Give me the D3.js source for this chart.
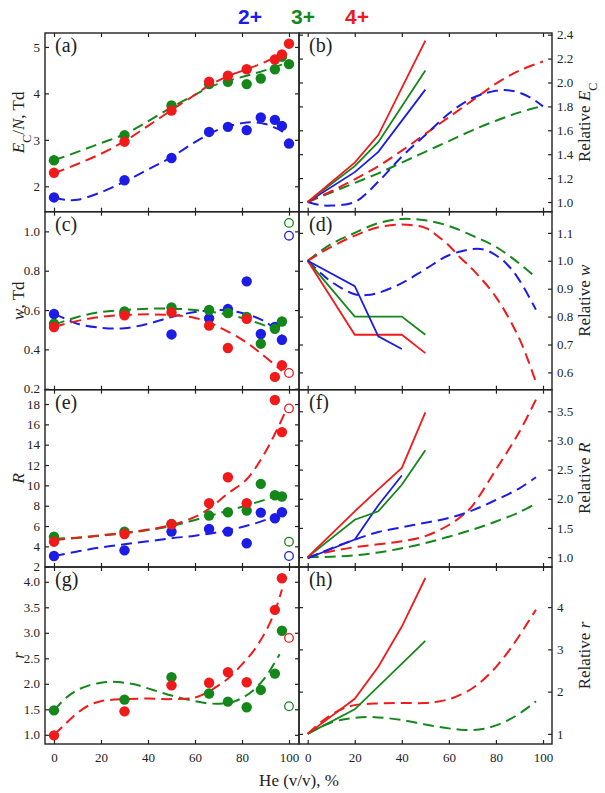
<!DOCTYPE html>
<html><head><meta charset="utf-8">
<script src="https://cdn.jsdelivr.net/npm/d3@7"></script>
<style>
html,body{margin:0;padding:0;background:#fff;}
</style></head>
<body><svg id="chart" width="605" height="793"></svg>
<script>
// ---------------- DATA ----------------
const heTicks = [0, 20, 40, 60, 80, 100];
const seriesNames = ["2+", "3+", "4+"];
const colors = {blue: "#1c1ce6", green: "#14871a", red: "#f01a1a"};

// measured points (He %, filled); last x = 100 is separate
const ptX = [0, 30, 50, 66, 74, 82, 88, 94, 97];
// (a) E_C/N, Td  (x=100 filled in panel a)
const aBlue  = [1.76, 2.13, 2.61, 3.17, 3.28, 3.21, 3.48, 3.43, 3.30];
const aGreen = [2.56, 3.10, 3.74, 4.20, 4.25, 4.20, 4.32, 4.52, 4.79];
const aRed   = [2.29, 2.96, 3.63, 4.25, 4.38, 4.52, null, 4.73, 4.84];
const aAt100 = {blue: 2.92, green: 4.63, red: 5.07};
// (c) w, Td
const cBlue  = [0.58, 0.585, 0.476, 0.558, 0.605, 0.746, 0.478, 0.514, 0.449];
const cGreen = [0.531, 0.593, 0.613, 0.60, 0.585, 0.565, 0.429, 0.505, 0.542];
const cRed   = [0.514, 0.573, 0.588, 0.521, 0.407, 0.555, null, 0.26, 0.319];
const cAt100 = {blue: 0.978, green: 1.043, red: 0.28};
// (e) R
const eBlue  = [3.05, 3.61, 5.45, 5.71, 5.45, 4.31, 7.32, 6.77, 7.36];
const eGreen = [4.96, 5.45, 6.2, 7.03, 7.36, 7.52, 10.15, 9.03, 8.9];
const eRed   = [4.46, 5.22, 6.18, 8.25, 10.8, 8.25, null, 18.4, 15.24];
const eAt100 = {blue: 3.05, green: 4.46, red: 17.57};
// (g) r
const gGreen = [1.48, 1.69, 2.13, 1.81, 1.65, 1.54, 1.88, 2.20, 3.04];
const gRed   = [0.99, 1.46, 1.97, 2.02, 2.23, 2.03, null, 3.45, 4.07];
const gAt100 = {green: 1.56, red: 2.90};

// fitted (dashed) curves
const aFitBlueX  = [0, 5, 10, 20, 30, 40, 50, 60, 70, 80, 85, 90, 95, 99];
const aFitBlueY  = [1.76, 1.71, 1.71, 1.87, 2.10, 2.36, 2.63, 2.95, 3.22, 3.36, 3.38, 3.34, 3.24, 3.12];
const aFitGreenX = [0, 10, 20, 30, 40, 50, 60, 66, 74, 82, 90, 97];
const aFitGreenY = [2.56, 2.74, 2.93, 3.12, 3.40, 3.70, 3.97, 4.13, 4.27, 4.38, 4.50, 4.62];
const aFitRedX   = [0, 10, 20, 30, 40, 50, 60, 66, 74, 82, 90, 97];
const aFitRedY   = [2.28, 2.48, 2.70, 2.97, 3.30, 3.64, 3.97, 4.17, 4.37, 4.52, 4.68, 4.86];

const cFitBlueX  = [0, 5, 10, 20, 30, 40, 50, 60, 70, 80, 90, 97];
const cFitBlueY  = [0.58, 0.555, 0.53, 0.51, 0.508, 0.53, 0.565, 0.59, 0.60, 0.585, 0.54, 0.47];
const cFitGreenX = [0, 10, 20, 30, 40, 50, 60, 70, 80, 90, 95];
const cFitGreenY = [0.525, 0.565, 0.59, 0.60, 0.607, 0.607, 0.60, 0.585, 0.56, 0.52, 0.495];
const cFitRedX   = [0, 10, 20, 30, 40, 50, 60, 66, 70, 80, 88, 97];
const cFitRedY   = [0.515, 0.545, 0.565, 0.575, 0.578, 0.575, 0.56, 0.537, 0.515, 0.45, 0.38, 0.29];

const eFitBlueX  = [0, 10, 20, 30, 40, 50, 60, 70, 80, 90, 97];
const eFitBlueY  = [3.05, 3.5, 3.9, 4.2, 4.5, 4.8, 5.05, 5.4, 5.9, 6.6, 7.3];
const eFitGreenX = [0, 10, 20, 30, 40, 50, 60, 70, 80, 90, 96];
const eFitGreenY = [4.75, 4.85, 5.05, 5.3, 5.6, 6.0, 6.6, 7.25, 7.9, 8.6, 9.1];
const eFitRedX   = [0, 10, 20, 30, 40, 50, 60, 66, 74, 82, 90, 98];
const eFitRedY   = [4.6, 4.85, 5.1, 5.35, 5.65, 6.1, 6.9, 7.7, 9.2, 10.6, 13.3, 17.0];

const gFitGreenX = [0, 5, 10, 15, 20, 25, 30, 35, 40, 45, 50, 55, 60, 65, 70, 75, 80, 85, 90, 96];
const gFitGreenY = [1.48, 1.72, 1.88, 1.97, 2.02, 2.04, 2.02, 1.98, 1.91, 1.84, 1.77, 1.71, 1.66, 1.62, 1.61, 1.63, 1.72, 1.88, 2.13, 2.58];
const gFitRedX   = [0, 5, 10, 15, 20, 30, 40, 50, 60, 66, 70, 74, 80, 85, 90, 94, 97];
const gFitRedY   = [1.0, 1.22, 1.43, 1.58, 1.66, 1.70, 1.71, 1.70, 1.73, 1.85, 1.97, 2.10, 2.38, 2.65, 3.02, 3.42, 3.85];

// relative panels: solid (measured) lines
const bSolidX = [0, 20, 30, 50];
const bSolidBlue  = [1.0, 1.25, 1.42, 1.94];
const bSolidGreen = [1.0, 1.30, 1.50, 2.10];
const bSolidRed   = [1.0, 1.33, 1.56, 2.35];
const bFitX = [0, 10, 20, 30, 40, 50, 60, 70, 80, 90, 100];
const bFitGreen = [1.0, 1.08, 1.16, 1.24, 1.33, 1.42, 1.51, 1.60, 1.68, 1.75, 1.805];
const bFitRed   = [1.0, 1.09, 1.19, 1.30, 1.43, 1.57, 1.71, 1.85, 1.99, 2.10, 2.175];
const bFitBlueX = [0, 5, 10, 20, 30, 40, 50, 60, 70, 80, 85, 90, 95, 100];
const bFitBlue  = [1.0, 0.975, 0.97, 1.0, 1.17, 1.38, 1.56, 1.74, 1.87, 1.93, 1.935, 1.915, 1.87, 1.80];

const dSolidBlueX = [0, 20, 30, 40];
const dSolidBlue  = [1.0, 0.909, 0.729, 0.684];
const dSolidX = [0, 20, 40, 50];
const dSolidGreen = [1.0, 0.80, 0.80, 0.735];
const dSolidRed   = [1.0, 0.735, 0.735, 0.669];
const dFitGreenX = [0, 10, 20, 30, 40, 50, 60, 70, 80, 90, 97];
const dFitGreen  = [1.0, 1.06, 1.10, 1.135, 1.15, 1.145, 1.125, 1.09, 1.05, 0.99, 0.94];
const dFitRedX   = [0, 10, 20, 30, 40, 50, 55, 60, 65, 70, 80, 90, 97];
const dFitRed    = [1.0, 1.05, 1.09, 1.12, 1.13, 1.118, 1.09, 1.055, 1.01, 0.97, 0.87, 0.72, 0.565];
const dFitBlueX  = [0, 5, 10, 20, 25, 30, 40, 50, 60, 70, 75, 80, 85, 90, 97];
const dFitBlue   = [1.0, 0.96, 0.925, 0.88, 0.877, 0.885, 0.92, 0.97, 1.02, 1.042, 1.04, 1.02, 0.985, 0.93, 0.825];

const fSolidX = [0, 20, 30, 40, 50];
const fSolidRed   = [1.0, 1.785, 2.16, 2.53, 3.48];
const fSolidGreen = [1.0, 1.64, 1.785, 2.24, 2.83];
const fSolidBlueX = [0, 20, 30, 40];
const fSolidBlue  = [0.98, 1.30, 1.89, 2.40];
const fFitX = [0, 10, 20, 30, 40, 50, 60, 70, 80, 90, 97];
const fFitBlue  = [0.98, 1.15, 1.30, 1.43, 1.51, 1.59, 1.67, 1.80, 1.98, 2.18, 2.37];
const fFitGreen = [1.0, 1.005, 1.03, 1.08, 1.15, 1.24, 1.35, 1.47, 1.61, 1.77, 1.92];
const fFitRedX  = [0, 10, 20, 30, 40, 50, 60, 66, 70, 80, 90, 97];
const fFitRed   = [1.0, 1.1, 1.17, 1.22, 1.27, 1.36, 1.55, 1.72, 1.88, 2.50, 3.15, 3.70];

const hSolidRedX = [0, 20, 30, 40, 50];
const hSolidRed  = [1.0, 1.83, 2.59, 3.54, 4.69];
const hSolidGreenX = [0, 20, 50];
const hSolidGreen  = [1.0, 1.58, 3.20];
const hFitRedX = [0, 5, 10, 15, 20, 30, 40, 50, 55, 60, 65, 70, 75, 80, 85, 90, 97];
const hFitRed  = [1.0, 1.25, 1.45, 1.6, 1.68, 1.72, 1.73, 1.73, 1.76, 1.82, 1.93, 2.08, 2.3, 2.58, 2.93, 3.33, 3.94];
const hFitGreenX = [0, 5, 10, 15, 20, 25, 30, 40, 50, 60, 65, 70, 75, 80, 85, 90, 97];
const hFitGreen  = [1.0, 1.15, 1.27, 1.34, 1.38, 1.40, 1.39, 1.33, 1.22, 1.13, 1.10, 1.09, 1.12, 1.2, 1.32, 1.48, 1.77];

// y tick values
const aTicks = [2, 3, 4, 5];
const bTicks = [1.0, 1.2, 1.4, 1.6, 1.8, 2.0, 2.2, 2.4];
const cTicks = [0.2, 0.4, 0.6, 0.8, 1.0];
const dTicks = [0.6, 0.7, 0.8, 0.9, 1.0, 1.1];
const eTicks = [2, 4, 6, 8, 10, 12, 14, 16, 18];
const fTicks = [1.0, 1.5, 2.0, 2.5, 3.0, 3.5];
const gTicks = [1.0, 1.5, 2.0, 2.5, 3.0, 3.5, 4.0];
const hTicks = [1, 2, 3, 4];

// ---------------- DRAWING ----------------
const SERIF = '"Liberation Serif", "DejaVu Serif", "Times New Roman", Times, serif';
const svg = d3.select("#chart");
const rows = [33, 211.7, 389.7, 567, 744];
const frameL = {x0: 45, x1: 299, r0: 54, r1: 289};
const frameR = {x0: 299, x1: 552, r0: 307.7, r1: 543};

const zip = (xs, ys) => xs.map((x, i) => ({x, y: ys[i]})).filter(d => d.y != null);

function panel(cfg) {
  const fr = cfg.side === "L" ? frameL : frameR;
  const top = rows[cfg.row], bot = rows[cfg.row + 1];
  const x = d3.scaleLinear().domain([0, 100]).range([fr.r0, fr.r1]);
  const y = d3.scaleLinear().domain(cfg.domain).range([bot, top]);
  const g = svg.append("g");
  const cid = "clip" + cfg.label;
  svg.append("clipPath").attr("id", cid).append("rect")
    .attr("x", fr.x0).attr("y", top).attr("width", fr.x1 - fr.x0).attr("height", bot - top);

  const plot = g.append("g").attr("clip-path", `url(#${cid})`);
  const line = d3.line().x(d => x(d.x)).y(d => y(d.y)).curve(d3.curveCatmullRom.alpha(0.5));
  const lineStraight = d3.line().x(d => x(d.x)).y(d => y(d.y));

  (cfg.dashed || []).forEach(s => {
    plot.append("path").datum(zip(s.x, s.y)).attr("d", line)
      .attr("fill", "none").attr("stroke", colors[s.c]).attr("stroke-width", 2)
      .attr("stroke-dasharray", "11,6");
  });
  (cfg.solid || []).forEach(s => {
    plot.append("path").datum(zip(s.x, s.y)).attr("d", lineStraight)
      .attr("fill", "none").attr("stroke", colors[s.c]).attr("stroke-width", 1.8);
  });
  (cfg.points || []).forEach(s => {
    plot.selectAll(null).data(zip(ptX, s.y)).join("circle")
      .attr("cx", d => x(d.x)).attr("cy", d => y(d.y)).attr("r", 5.2)
      .attr("fill", colors[s.c]);
    if (s.end != null) {
      const c = plot.append("circle").attr("cx", x(100)).attr("cy", y(s.end));
      if (s.open) c.attr("r", 4.3).attr("fill", "none").attr("stroke", colors[s.c]).attr("stroke-width", 1.3);
      else c.attr("r", 5.2).attr("fill", colors[s.c]);
    }
  });

  // axes with inward ticks
  const fmt = cfg.fmt;
  const tickStyle = sel => {
    sel.attr("font-family", SERIF).attr("font-size", 13);
    sel.select(".domain").remove();
    sel.selectAll(".tick line").attr("stroke", "#222").attr("stroke-width", 1.2);
    sel.selectAll(".tick text").attr("font-family", SERIF).attr("font-size", 13).attr("fill", "#222");
  };
  const yl = d3.axisLeft(y).tickValues(cfg.ticks).tickSize(-4).tickPadding(5)
    .tickFormat(cfg.side === "L" ? fmt : () => "");
  g.append("g").attr("transform", `translate(${fr.x0},0)`).call(yl).call(tickStyle);
  const yr = d3.axisRight(y).tickValues(cfg.ticks).tickSize(-4).tickPadding(5)
    .tickFormat(cfg.side === "R" ? fmt : () => "");
  g.append("g").attr("transform", `translate(${fr.x1},0)`).call(yr).call(tickStyle);
  g.append("g").attr("transform", `translate(0,${top})`)
    .call(d3.axisTop(x).tickValues(heTicks).tickSize(-4).tickFormat(() => "")).call(tickStyle);
  const xb = d3.axisBottom(x).tickValues(heTicks).tickSize(-4).tickPadding(9)
    .tickFormat(cfg.row === 3 ? d3.format("d") : () => "");
  g.append("g").attr("transform", `translate(0,${bot})`).call(xb).call(tickStyle);

  g.append("rect").attr("x", fr.x0).attr("y", top).attr("width", fr.x1 - fr.x0).attr("height", bot - top)
    .attr("fill", "none").attr("stroke", "#222").attr("stroke-width", 1.4);

  g.append("text").attr("x", fr.x0 + 10).attr("y", top + 19)
    .attr("font-family", SERIF).attr("font-size", 20).attr("fill", "#222")
    .text("(" + cfg.label + ")");

  // axis title
  const tx = cfg.side === "L" ? 24 : 590;
  const t = g.append("text").attr("text-anchor", "middle")
    .attr("transform", `translate(${tx},${(top + bot) / 2}) rotate(-90)`)
    .attr("font-family", SERIF).attr("font-size", 17).attr("fill", "#222");
  cfg.title.forEach(p => {
    const ts = t.append("tspan").text(p.t);
    if (p.i) ts.attr("font-style", "italic");
    if (p.sub) ts.attr("baseline-shift", "sub").attr("font-size", 12);
  });
}

const f1 = d3.format(".1f"), fd = d3.format("d");

panel({label: "a", side: "L", row: 0, domain: [1.453, 5.30], ticks: aTicks, fmt: fd,
  title: [{t: "E", i: 1}, {t: "C", sub: 1}, {t: "/"}, {t: "N", i: 1}, {t: ", Td"}],
  dashed: [{c: "blue", x: aFitBlueX, y: aFitBlueY}, {c: "green", x: aFitGreenX, y: aFitGreenY}, {c: "red", x: aFitRedX, y: aFitRedY}],
  points: [{c: "blue", y: aBlue, end: aAt100.blue}, {c: "green", y: aGreen, end: aAt100.green}, {c: "red", y: aRed, end: aAt100.red}]});

panel({label: "b", side: "R", row: 0, domain: [0.919, 2.414], ticks: bTicks, fmt: f1,
  title: [{t: "Relative "}, {t: "E", i: 1}, {t: "C", sub: 1}],
  dashed: [{c: "green", x: bFitX, y: bFitGreen}, {c: "red", x: bFitX, y: bFitRed}, {c: "blue", x: bFitBlueX, y: bFitBlue}],
  solid: [{c: "blue", x: bSolidX, y: bSolidBlue}, {c: "green", x: bSolidX, y: bSolidGreen}, {c: "red", x: bSolidX, y: bSolidRed}]});

panel({label: "c", side: "L", row: 1, domain: [0.195, 1.10], ticks: cTicks, fmt: f1,
  title: [{t: "w", i: 1}, {t: ", Td"}],
  dashed: [{c: "blue", x: cFitBlueX, y: cFitBlueY}, {c: "green", x: cFitGreenX, y: cFitGreenY}, {c: "red", x: cFitRedX, y: cFitRedY}],
  points: [{c: "blue", y: cBlue, end: cAt100.blue, open: 1}, {c: "green", y: cGreen, end: cAt100.green, open: 1}, {c: "red", y: cRed, end: cAt100.red, open: 1}]});

panel({label: "d", side: "R", row: 1, domain: [0.538, 1.176], ticks: dTicks, fmt: f1,
  title: [{t: "Relative "}, {t: "w", i: 1}],
  dashed: [{c: "green", x: dFitGreenX, y: dFitGreen}, {c: "red", x: dFitRedX, y: dFitRed}, {c: "blue", x: dFitBlueX, y: dFitBlue}],
  solid: [{c: "green", x: dSolidX, y: dSolidGreen}, {c: "red", x: dSolidX, y: dSolidRed}, {c: "blue", x: dSolidBlueX, y: dSolidBlue}]});

panel({label: "e", side: "L", row: 2, domain: [1.97, 19.41], ticks: eTicks, fmt: fd,
  title: [{t: "R", i: 1}],
  dashed: [{c: "blue", x: eFitBlueX, y: eFitBlueY}, {c: "green", x: eFitGreenX, y: eFitGreenY}, {c: "red", x: eFitRedX, y: eFitRedY}],
  points: [{c: "blue", y: eBlue, end: eAt100.blue, open: 1}, {c: "green", y: eGreen, end: eAt100.green, open: 1}, {c: "red", y: eRed, end: eAt100.red, open: 1}]});

panel({label: "f", side: "R", row: 2, domain: [0.83, 3.87], ticks: fTicks, fmt: f1,
  title: [{t: "Relative "}, {t: "R", i: 1}],
  dashed: [{c: "green", x: fFitX, y: fFitGreen}, {c: "red", x: fFitRedX, y: fFitRed}, {c: "blue", x: fFitX, y: fFitBlue}],
  solid: [{c: "blue", x: fSolidBlueX, y: fSolidBlue}, {c: "green", x: fSolidX, y: fSolidGreen}, {c: "red", x: fSolidX, y: fSolidRed}]});

panel({label: "g", side: "L", row: 3, domain: [0.82, 4.29], ticks: gTicks, fmt: f1,
  title: [{t: "r", i: 1}],
  dashed: [{c: "green", x: gFitGreenX, y: gFitGreenY}, {c: "red", x: gFitRedX, y: gFitRedY}],
  points: [{c: "green", y: gGreen, end: gAt100.green, open: 1}, {c: "red", y: gRed, end: gAt100.red, open: 1}]});

panel({label: "h", side: "R", row: 3, domain: [0.76, 4.95], ticks: hTicks, fmt: fd,
  title: [{t: "Relative "}, {t: "r", i: 1}],
  dashed: [{c: "green", x: hFitGreenX, y: hFitGreen}, {c: "red", x: hFitRedX, y: hFitRed}],
  solid: [{c: "green", x: hSolidGreenX, y: hSolidGreen}, {c: "red", x: hSolidRedX, y: hSolidRed}]});

// x-axis title
svg.append("text").attr("x", 299).attr("y", 786).attr("text-anchor", "middle")
  .attr("font-family", SERIF).attr("font-size", 17).attr("fill", "#222").text("He (v/v), %");

// legend
const legX = [250, 303, 357];
const legC = ["blue", "green", "red"];
seriesNames.forEach((s, i) => {
  svg.append("text").attr("x", legX[i]).attr("y", 24).attr("text-anchor", "middle")
    .attr("font-family", '"Liberation Sans", Arial, sans-serif').attr("font-weight", "bold")
    .attr("font-size", 21).attr("fill", colors[legC[i]]).text(s);
});
</script></body></html>
